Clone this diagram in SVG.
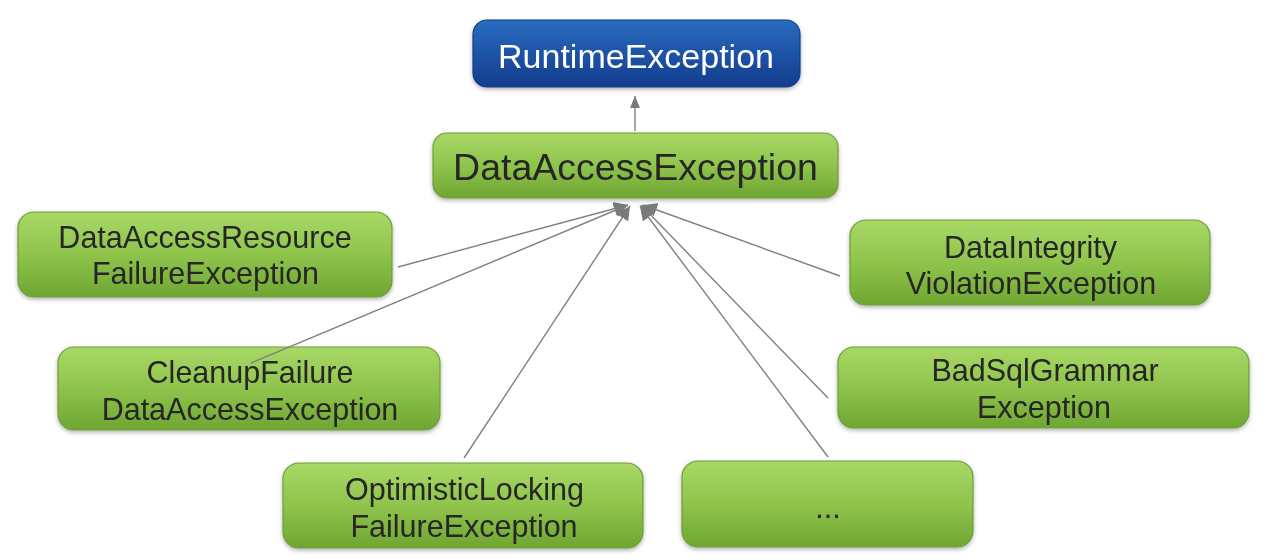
<svg xmlns="http://www.w3.org/2000/svg" width="1268" height="560" viewBox="0 0 1268 560">
<style>
.g{fill:url(#gg);stroke:#6f9e3a;stroke-width:1.2}
.b{fill:url(#bg);stroke:#123d84;stroke-width:1.2}
.t{font-family:"Liberation Sans",Arial,sans-serif;font-size:30.5px;fill:#262626;text-anchor:middle}
.c{stroke:#808080;stroke-width:1.4;fill:none}
</style>
<defs>
<linearGradient id="gg" x1="0" y1="0" x2="0" y2="1">
<stop offset="0" stop-color="#a8d866"/>
<stop offset="0.5" stop-color="#8fc44c"/>
<stop offset="1" stop-color="#6fa632"/>
</linearGradient>
<linearGradient id="bg" x1="0" y1="0" x2="0" y2="1">
<stop offset="0" stop-color="#2a6cc0"/>
<stop offset="1" stop-color="#123c8c"/>
</linearGradient>
<filter id="sh" x="-5%" y="-10%" width="110%" height="130%">
<feDropShadow dx="0" dy="2" stdDeviation="2" flood-color="#000" flood-opacity="0.3"/>
</filter>
<marker id="ah" markerUnits="userSpaceOnUse" markerWidth="14" markerHeight="14" viewBox="0 0 14 14" refX="14" refY="7" orient="auto">
<path d="M0,0 L14,7 L0,14 Z" fill="#7a7a7a"/>
</marker>
<marker id="ah2" markerUnits="userSpaceOnUse" markerWidth="12" markerHeight="10" viewBox="0 0 12 10" refX="12" refY="5" orient="auto">
<path d="M0,0 L12,5 L0,10 Z" fill="#7a7a7a"/>
</marker>
</defs>
<rect width="1268" height="560" fill="#fff"/>
<g id="runtime" filter="url(#sh)">
<rect class="b" x="473" y="20" width="327" height="67" rx="14"/>
<text x="636" y="68" style="font-family:'Liberation Sans',Arial,sans-serif;font-size:34px;fill:#fff;text-anchor:middle">RuntimeException</text>
</g>
<g id="dataAccess" filter="url(#sh)">
<rect class="g" x="433" y="133" width="405" height="65" rx="14"/>
<text class="t" x="635.5" y="180" style="font-size:37.5px">DataAccessException</text>
</g>
<g id="resourceFailure" filter="url(#sh)">
<rect class="g" x="18" y="212" width="374" height="85" rx="16"/>
<text class="t" x="205" y="248">DataAccessResource</text>
<text class="t" x="205.5" y="284">FailureException</text>
</g>
<g id="cleanupFailure" filter="url(#sh)">
<rect class="g" x="58" y="347" width="382" height="83" rx="16"/>
<text class="t" x="250" y="383">CleanupFailure</text>
<text class="t" x="250" y="420">DataAccessException</text>
</g>
<g id="optimisticLocking" filter="url(#sh)">
<rect class="g" x="283" y="463" width="360" height="85" rx="16"/>
<text class="t" x="464.5" y="500">OptimisticLocking</text>
<text class="t" x="464" y="537">FailureException</text>
</g>
<g id="more" filter="url(#sh)">
<rect class="g" x="682" y="461" width="291" height="86" rx="16"/>
<text class="t" x="828" y="518">...</text>
</g>
<g id="dataIntegrity" filter="url(#sh)">
<rect class="g" x="850" y="220" width="360" height="85" rx="16"/>
<text class="t" x="1030.5" y="258">DataIntegrity</text>
<text class="t" x="1031" y="294">ViolationException</text>
</g>
<g id="badSqlGrammar" filter="url(#sh)">
<rect class="g" x="838" y="347" width="411" height="81" rx="16"/>
<text class="t" x="1045" y="381">BadSqlGrammar</text>
<text class="t" x="1044" y="418">Exception</text>
</g>
<g id="connectors">
<line class="c" x1="635" y1="131" x2="635" y2="96" marker-end="url(#ah2)"/>
<line class="c" x1="398" y1="267" x2="628" y2="205" marker-end="url(#ah)"/>
<line class="c" x1="251" y1="363" x2="628" y2="205" marker-end="url(#ah)"/>
<line class="c" x1="464" y1="458" x2="630" y2="206" marker-end="url(#ah)"/>
<line class="c" x1="828" y1="457" x2="640" y2="206" marker-end="url(#ah)"/>
<line class="c" x1="828" y1="398" x2="641" y2="205" marker-end="url(#ah)"/>
<line class="c" x1="840" y1="276" x2="643" y2="205" marker-end="url(#ah)"/>
</g>
</svg>
